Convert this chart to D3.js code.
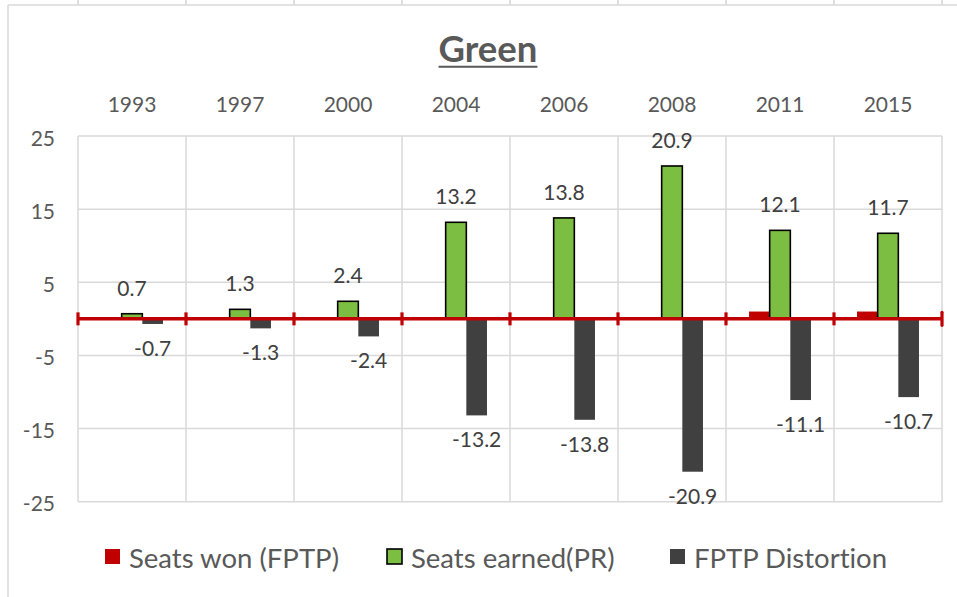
<!DOCTYPE html>
<html><head><meta charset="utf-8">
<script src="https://cdn.jsdelivr.net/npm/d3@7"></script>
<style>html,body{margin:0;padding:0;background:#fff;}svg{display:block;}text{font-variant-ligatures:none;font-feature-settings:"liga" 0;}</style>
</head><body>
<svg id="chart" width="957" height="597"></svg>
<script>
const title = "Green";
const years = ["1993","1997","2000","2004","2006","2008","2011","2015"];
const seriesNames = ["Seats won (FPTP)","Seats earned(PR)","FPTP Distortion"];
const seatsWon = [0,0,0,0,0,0,1,1];
const seatsPR = [0.7,1.3,2.4,13.2,13.8,20.9,12.1,11.7];
const distortion = [-0.7,-1.3,-2.4,-13.2,-13.8,-20.9,-11.1,-10.7];
const yTicks = [-25,-15,-5,5,15,25];
const colors = ["#C00000","#7CBE41","#404040"];

const FONT = "Lato, 'Open Sans', sans-serif";
const svg = d3.select("#chart");
const W = 957, H = 597;
const plot = {l:78, r:942, t:136, b:501.7};

const x = d3.scaleBand().domain(years).range([plot.l, plot.r]).paddingInner(0).paddingOuter(0);
const y = d3.scaleLinear().domain([-25,25]).range([plot.b, plot.t]);
const bw = x.bandwidth()/(3+2.23);
const xs = d3.scaleBand().domain(seriesNames).range([-1.5*bw, 1.5*bw]);

// chart frame
svg.append("line").attr("x1",8).attr("x2",8).attr("y1",5).attr("y2",H).attr("stroke","#d9d9d9").attr("stroke-width",1.5);
svg.append("line").attr("x1",8).attr("x2",W).attr("y1",5).attr("y2",5).attr("stroke","#d9d9d9").attr("stroke-width",1.5);
// spreadsheet cell lines above the chart
const bounds = years.map(d=>x(d)).concat([plot.r]);
svg.selectAll(".cell").data(bounds).join("line").attr("x1",d=>d).attr("x2",d=>d).attr("y1",0).attr("y2",5)
  .attr("stroke","#d4d4d4").attr("stroke-width",1.5);

// grid
const g = svg.append("g");
g.selectAll(".hg").data(yTicks).join("line").attr("x1",plot.l).attr("x2",plot.r)
  .attr("y1",d=>y(d)).attr("y2",d=>y(d)).attr("stroke","#d9d9d9").attr("stroke-width",1.5);
g.selectAll(".vg").data(bounds).join("line").attr("x1",d=>d).attr("x2",d=>d)
  .attr("y1",plot.t).attr("y2",plot.b).attr("stroke","#d9d9d9").attr("stroke-width",1.5);

// y tick labels
g.selectAll(".yt").data(yTicks).join("text").attr("x",55).attr("y",d=>y(d)+1)
  .attr("text-anchor","end").attr("dominant-baseline","central")
  .attr("font-family",FONT).attr("font-size",21).attr("fill","#595959").text(d=>String(d));

// category labels at top
g.selectAll(".xt").data(years).join("text").attr("x",d=>x(d)+x.bandwidth()/2).attr("y",112)
  .attr("text-anchor","middle").attr("font-family",FONT).attr("font-size",21).attr("fill","#595959").text(d=>d);

// bars
const all = [seatsWon, seatsPR, distortion];
all.forEach((vals,si)=>{
  const cx = d => x(years[d.i]) + x.bandwidth()/2 + xs(seriesNames[si]) + xs.bandwidth()/2;
  const data = vals.map((v,i)=>({v,i})).filter(d=>d.v!==0);
  g.selectAll(".bar"+si).data(data).join("rect")
    .attr("x",d=>cx(d)-bw/2).attr("width",bw)
    .attr("y",d=>Math.min(y(d.v),y(0))).attr("height",d=>Math.abs(y(d.v)-y(0)))
    .attr("fill",colors[si])
    .attr("stroke", si===1 ? "#000" : "none").attr("stroke-width",1.6);
  if(si>0){
    g.selectAll(".lab"+si).data(data).join("text")
      .attr("x",cx).attr("y",d=> d.v>0 ? y(d.v)-18 : y(d.v)+32)
      .attr("text-anchor","middle").attr("font-family",FONT).attr("font-size",21).attr("fill","#404040")
      .text(d=>d.v.toFixed(1));
  }
});

// zero axis (red)
g.append("line").attr("x1",plot.l).attr("x2",plot.r).attr("y1",y(0)).attr("y2",y(0))
  .attr("stroke","#C00000").attr("stroke-width",3.5);
g.selectAll(".tk").data(bounds).join("line").attr("x1",d=>d).attr("x2",d=>d)
  .attr("y1",y(0)-6.5).attr("y2",y(0)+6.5).attr("stroke","#C00000").attr("stroke-width",3.2)
  .attr("stroke-linecap",(d,i)=> i===bounds.length-1 ? "round":"butt");

// title
const tt = svg.append("text").attr("x",488).attr("y",61.5).attr("text-anchor","middle")
  .attr("font-family",FONT).attr("font-weight","bold").attr("font-size",36.5).attr("fill","#595959").text(title);
const tw = tt.node().getComputedTextLength();
svg.append("line").attr("x1",488-tw/2).attr("x2",488+tw/2).attr("y1",66.7).attr("y2",66.7)
  .attr("stroke","#595959").attr("stroke-width",2);

// legend
const legX = [105, 387, 670];
const lg = svg.append("g");
seriesNames.forEach((s,i)=>{
  lg.append("rect").attr("x",legX[i]).attr("y",549).attr("width",15).attr("height",15)
    .attr("fill",colors[i]).attr("stroke", i===1?"#000":"none").attr("stroke-width",1.6);
  lg.append("text").attr("x",legX[i]+24).attr("y",568).attr("font-family",FONT).attr("font-size",27.5)
    .attr("fill","#595959").text(s);
});
</script>
</body></html>
